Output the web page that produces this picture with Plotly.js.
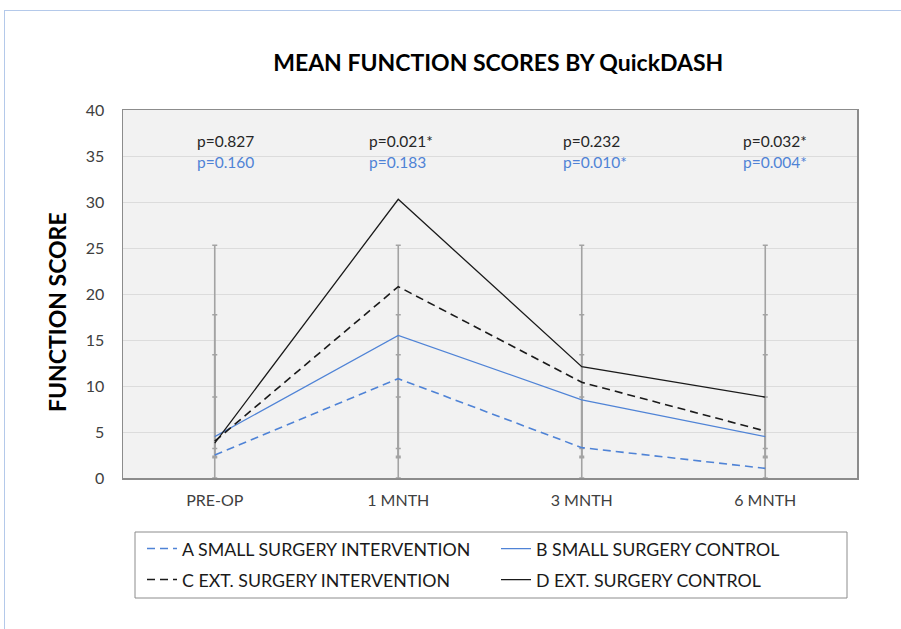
<!DOCTYPE html>
<html>
<head>
<meta charset="utf-8">
<script src="https://cdn.plot.ly/plotly-3.0.1.min.js"></script>
<style>
  html, body { margin: 0; padding: 0; background: #ffffff; }
  #chart { width: 901px; height: 629px; position: relative; }
  #frame { position: absolute; left: 4px; top: 10px; width: 1000px; height: 1000px;
           border-left: 1px solid #b4c9ea; border-top: 1px solid #b4c9ea; pointer-events: none; }
</style>
</head>
<body>
<div id="chart"></div>
<div id="frame"></div>
<script>
// ---- data ----
const categories = ["PRE-OP", "1 MNTH", "3 MNTH", "6 MNTH"];
const seriesNames = [
  "A SMALL SURGERY INTERVENTION",
  "B SMALL SURGERY CONTROL",
  "C EXT. SURGERY INTERVENTION",
  "D EXT. SURGERY CONTROL"
];
const valuesA = [2.5, 10.8, 3.3, 1.05];
const valuesB = [4.5, 15.5, 8.5, 4.5];
const valuesC = [4.0, 20.8, 10.4, 5.1];
const valuesD = [3.8, 30.3, 12.1, 8.8];
// Excel-style "standard deviation" error bars: centre and half-length per series (A..D)
const errCentre = [4.4, 8.3, 10.05, 13.75];
const errHalf = [4.4, 5.1, 7.7, 11.55];
// p-value labels per time point
const pBlack = ["p=0.827", "p=0.021*", "p=0.232", "p=0.032*"];
const pBlue = ["p=0.160", "p=0.183", "p=0.010*", "p=0.004*"];

const FONT = "Lato, 'Open Sans', sans-serif";
const BLUE = "#4f83d6";
const GREY = "#a3a3a3";

const traces = [];
// error bars (drawn first, behind lines)
errCentre.forEach((c, i) => {
  traces.push({
    x: categories, y: categories.map(() => c),
    type: "scatter", mode: "markers",
    marker: { size: 1, opacity: 0 },
    error_y: { type: "data", array: categories.map(() => errHalf[i]), visible: true,
               color: GREY, thickness: 1.6, width: 2.5 },
    showlegend: false, hoverinfo: "skip"
  });
});

const lineSpecs = [
  { y: valuesA, color: BLUE, dash: "8px,5px", width: 1.6, legend: "legend" },
  { y: valuesB, color: BLUE, dash: "solid", width: 1.2, legend: "legend2" },
  { y: valuesC, color: "#1a1a1a", dash: "8px,5px", width: 1.6, legend: "legend3" },
  { y: valuesD, color: "#1a1a1a", dash: "solid", width: 1.3, legend: "legend4" }
];
lineSpecs.forEach((s, i) => {
  traces.push({
    x: categories, y: s.y, name: seriesNames[i],
    type: "scatter", mode: "lines",
    line: { color: s.color, dash: s.dash, width: s.width },
    legend: s.legend,
    showlegend: true
  });
});

const pShift = [-20, -31, -21, -24];
const annotations = [];
categories.forEach((c, i) => {
  annotations.push({ x: i, y: 36.6, xref: "x", yref: "y", text: pBlack[i], showarrow: false,
    xanchor: "left", xshift: pShift[i], font: { family: FONT, size: 15.5, color: "#262626" } });
  annotations.push({ x: i, y: 34.3, xref: "x", yref: "y", text: pBlue[i], showarrow: false,
    xanchor: "left", xshift: pShift[i], font: { family: FONT, size: 15.5, color: BLUE } });
});
// y-axis title (placed as rotated annotation to match the reference's offset)
annotations.push({
  x: 0, xref: "paper", xanchor: "center", xshift: -66,
  y: (478 - 312) / 368, yref: "paper", yanchor: "middle",
  text: "FUNCTION SCORE", textangle: -90, showarrow: false,
  font: { family: FONT, size: 23, color: "#000000", weight: "bold" }
});

const legendBase = {
  orientation: "h", xanchor: "left", yanchor: "middle",
  bgcolor: "rgba(0,0,0,0)",
  font: { family: FONT, size: 17.8, color: "#1a1a1a" }
};
const col1 = (142 - 123) / 734, col2 = (496 - 123) / 734;
const row1 = (478 - 549) / 368, row2 = (478 - 580) / 368;

const layout = {
  width: 901, height: 629,
  margin: { l: 123, r: 44, t: 110, b: 151 },
  paper_bgcolor: "#ffffff",
  plot_bgcolor: "#f2f2f2",
  font: { family: FONT, color: "#595959" },
  title: { text: "MEAN FUNCTION SCORES BY QuickDASH", x: 0.553, xanchor: "center", y: 0.9, yanchor: "middle",
           font: { family: FONT, size: 23, color: "#000000", weight: "bold" } },
  xaxis: {
    type: "category", range: [-0.5, 3.5],
    showgrid: false, zeroline: false,
    showline: true, mirror: true, linecolor: "#8c8c8c", linewidth: 1.5,
    ticks: "", tickfont: { family: FONT, size: 16, color: "#404040" }, ticklabelstandoff: 7
  },
  yaxis: {
    range: [0, 40], dtick: 5, tick0: 0,
    showgrid: true, gridcolor: "#dcdcdc", gridwidth: 1, zeroline: false,
    showline: true, mirror: true, linecolor: "#8c8c8c", linewidth: 1.5,
    ticks: "", tickfont: { family: FONT, size: 16, color: "#404040" }, ticklabelstandoff: 14
  },
  legend: Object.assign({}, legendBase, { x: col1, y: row1 }),
  legend2: Object.assign({}, legendBase, { x: col2, y: row1 }),
  legend3: Object.assign({}, legendBase, { x: col1, y: row2 }),
  legend4: Object.assign({}, legendBase, { x: col2, y: row2 }),
  shapes: [{
    type: "rect", xref: "paper", yref: "paper",
    x0: (135 - 123) / 734, x1: (847 - 123) / 734,
    y0: (478 - 598) / 368, y1: (478 - 532) / 368,
    line: { color: "#8c8c8c", width: 1 }, fillcolor: "rgba(0,0,0,0)"
  }],
  annotations: annotations,
  showlegend: true
};

Plotly.newPlot("chart", traces, layout, { displayModeBar: false, staticPlot: true });
</script>
</body>
</html>
